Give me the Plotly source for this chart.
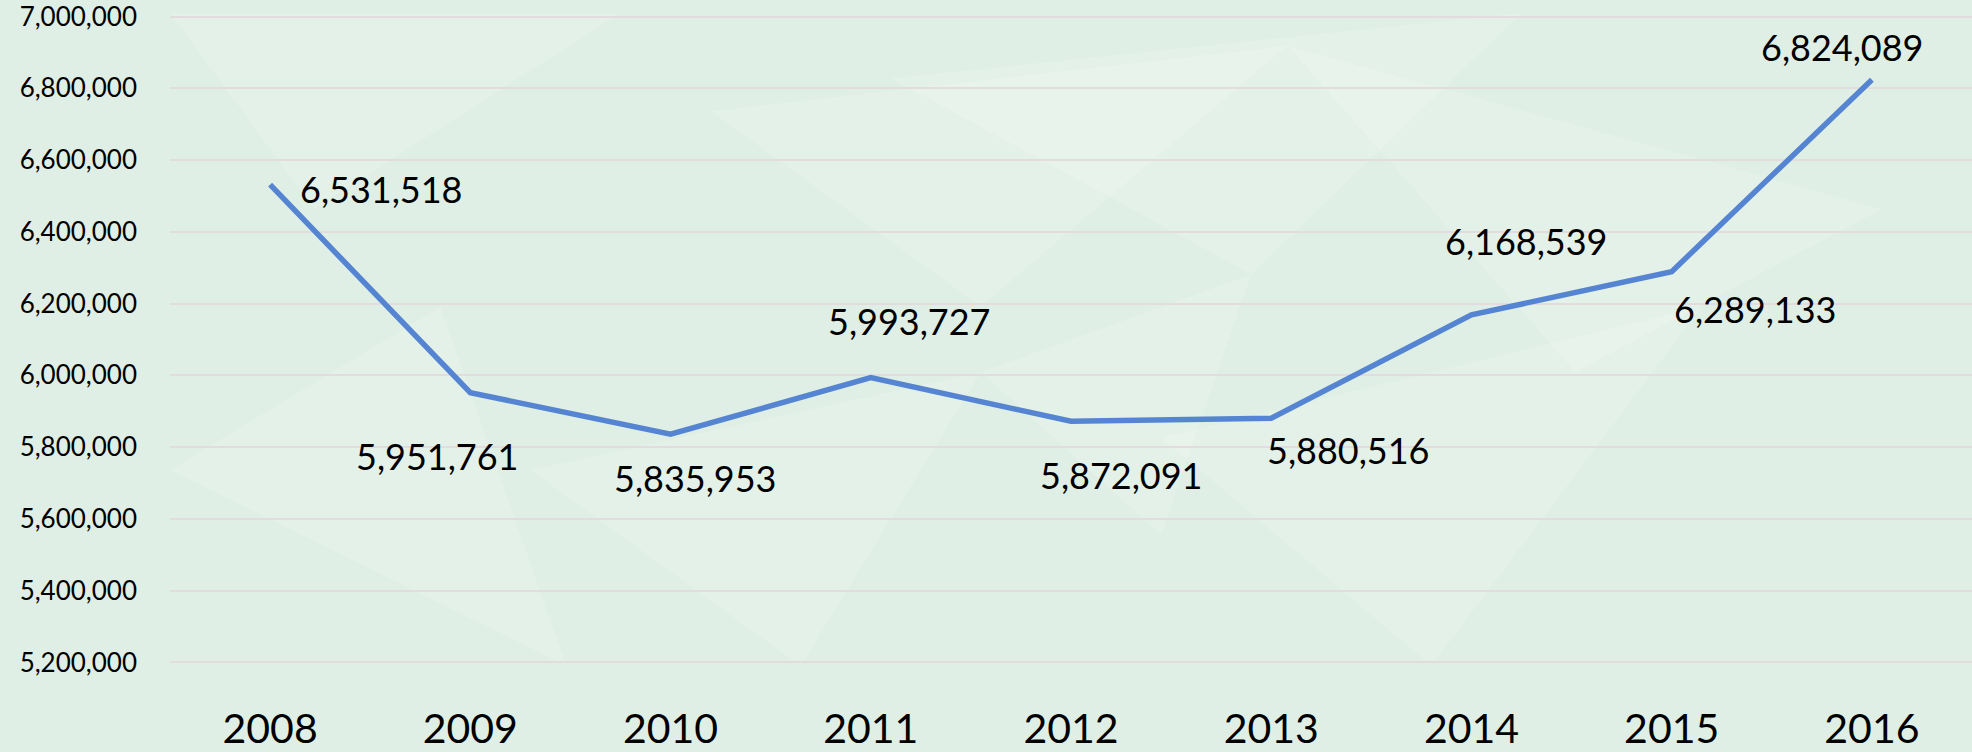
import plotly.graph_objects as go

years = ["2008", "2009", "2010", "2011", "2012", "2013", "2014", "2015", "2016"]
values = [6531518, 5951761, 5835953, 5993727, 5872091, 5880516, 6168539, 6289133, 6824089]
y_ticks = [5200000, 5400000, 5600000, 5800000, 6000000, 6200000, 6400000, 6600000, 6800000, 7000000]
# label offsets (px, right / down) from each point to the label centre
label_dx = [111, -33, 25, 39, 50, 77, 55, 84, -29]
label_dy = [4, 63, 44, -57, 54, 32, -74, 37, -33]

FONT = "Lato"

fig = go.Figure()

# subtle low-poly background decoration
tris = [
    [(0.0, 1.0), (0.25, 1.0), (0.08, 0.70)],
    [(0.30, 0.85), (0.62, 0.95), (0.45, 0.55)],
    [(0.40, 0.90), (0.75, 1.0), (0.60, 0.60)],
    [(0.55, 0.35), (0.85, 0.55), (0.70, 0.0)],
    [(0.20, 0.30), (0.45, 0.45), (0.35, 0.0)],
    [(0.62, 0.95), (0.95, 0.70), (0.78, 0.45)],
    [(0.0, 0.30), (0.15, 0.55), (0.22, 0.0)],
    [(0.45, 0.45), (0.60, 0.60), (0.55, 0.20)],
]
for t in tris:
    path = "M " + " L ".join(f"{x},{y}" for x, y in t) + " Z"
    fig.add_shape(type="path", path=path, xref="paper", yref="paper",
                  fillcolor="rgba(255,255,255,0.14)", line=dict(width=0), layer="below")

fig.add_trace(go.Scatter(
    x=years, y=values, mode="lines",
    line=dict(color="#5585d2", width=5.5),
    hoverinfo="skip", showlegend=False,
))

for i, (v, dx, dy) in enumerate(zip(values, label_dx, label_dy)):
    fig.add_annotation(x=i, y=v, xref="x", yref="y", text=f"{v:,}", showarrow=False,
                       xshift=dx, yshift=-dy, xanchor="center", yanchor="middle",
                       font=dict(family=FONT, size=36, color="#000000"))

fig.update_layout(
    width=1972, height=752, autosize=False,
    margin=dict(l=170, r=0, t=13, b=84),
    paper_bgcolor="#dfefe5",
    plot_bgcolor="rgba(0,0,0,0)",
    xaxis=dict(type="category", range=[-0.5, 8.5], showgrid=False, zeroline=False,
               showline=False, ticks="", ticklabelstandoff=35,
               tickfont=dict(family=FONT, size=41, color="#000000")),
    yaxis=dict(range=[5190000, 7010000], tickvals=y_ticks,
               ticktext=[f"{t:,}" for t in y_ticks],
               showgrid=True, gridcolor="#e3dcdf", gridwidth=2,
               zeroline=False, showline=False, ticks="", ticklabelstandoff=32,
               ticklabeloverflow="allow",
               tickfont=dict(family=FONT, size=26, color="#000000")),
)

fig.write_html("out.html", config={"displayModeBar": False},
               post_script="document.body.style.margin='0';")
